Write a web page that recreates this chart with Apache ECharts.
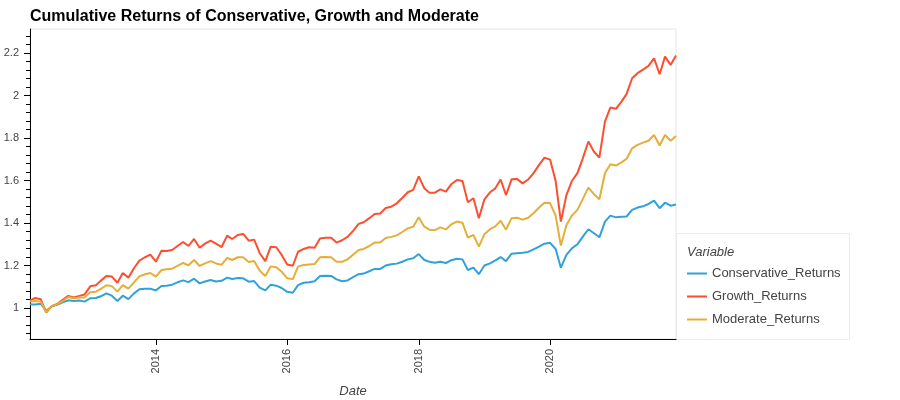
<!DOCTYPE html>
<html>
<head>
<meta charset="utf-8">
<script src="https://cdn.jsdelivr.net/npm/echarts@6/dist/echarts.min.js"></script>
<style>
  html, body { margin: 0; padding: 0; background: #fff; }
  #chart { width: 900px; height: 400px; }
</style>
</head>
<body>
<div id="chart"></div>
<script>
// monthly dates, Feb 2012 .. Dec 2021
const dates = [
  '2012-02','2012-03','2012-04','2012-05','2012-06','2012-07','2012-08','2012-09','2012-10','2012-11','2012-12','2013-01',
  '2013-02','2013-03','2013-04','2013-05','2013-06','2013-07','2013-08','2013-09','2013-10','2013-11','2013-12','2014-01',
  '2014-02','2014-03','2014-04','2014-05','2014-06','2014-07','2014-08','2014-09','2014-10','2014-11','2014-12','2015-01',
  '2015-02','2015-03','2015-04','2015-05','2015-06','2015-07','2015-08','2015-09','2015-10','2015-11','2015-12','2016-01',
  '2016-02','2016-03','2016-04','2016-05','2016-06','2016-07','2016-08','2016-09','2016-10','2016-11','2016-12','2017-01',
  '2017-02','2017-03','2017-04','2017-05','2017-06','2017-07','2017-08','2017-09','2017-10','2017-11','2017-12','2018-01',
  '2018-02','2018-03','2018-04','2018-05','2018-06','2018-07','2018-08','2018-09','2018-10','2018-11','2018-12','2019-01',
  '2019-02','2019-03','2019-04','2019-05','2019-06','2019-07','2019-08','2019-09','2019-10','2019-11','2019-12','2020-01',
  '2020-02','2020-03','2020-04','2020-05','2020-06','2020-07','2020-08','2020-09','2020-10','2020-11','2020-12','2021-01',
  '2021-02','2021-03','2021-04','2021-05','2021-06','2021-07','2021-08','2021-09','2021-10','2021-11','2021-12'
];

const conservative = [
  1.017, 1.017, 1.020, 0.986, 1.008, 1.015, 1.027, 1.036, 1.033, 1.035, 1.030, 1.046,
  1.047, 1.055, 1.069, 1.058, 1.033, 1.058, 1.042, 1.069, 1.088, 1.091, 1.091, 1.083,
  1.104, 1.105, 1.110, 1.121, 1.130, 1.122, 1.138, 1.116, 1.125, 1.132, 1.125, 1.128,
  1.143, 1.137, 1.141, 1.140, 1.124, 1.127, 1.096, 1.083, 1.110, 1.105, 1.094, 1.076,
  1.072, 1.108, 1.119, 1.121, 1.126, 1.151, 1.152, 1.151, 1.135, 1.126, 1.130, 1.145,
  1.159, 1.162, 1.173, 1.184, 1.184, 1.200, 1.206, 1.209, 1.218, 1.229, 1.234, 1.254,
  1.226, 1.218, 1.213, 1.218, 1.212, 1.225, 1.232, 1.229, 1.179, 1.190, 1.159, 1.200,
  1.210, 1.223, 1.240, 1.221, 1.256, 1.258, 1.260, 1.264, 1.276, 1.289, 1.303, 1.307,
  1.278, 1.190, 1.250, 1.281, 1.300, 1.336, 1.371, 1.352, 1.333, 1.407, 1.435, 1.427,
  1.430, 1.431, 1.462, 1.473, 1.479, 1.490, 1.506, 1.470, 1.496, 1.482, 1.487
];

const growth = [
  1.036, 1.047, 1.041, 0.978, 1.009, 1.019, 1.038, 1.057, 1.050, 1.057, 1.064, 1.102,
  1.107, 1.129, 1.151, 1.148, 1.119, 1.165, 1.143, 1.187, 1.223, 1.239, 1.251, 1.218,
  1.270, 1.268, 1.273, 1.292, 1.311, 1.292, 1.325, 1.284, 1.303, 1.317, 1.303, 1.287,
  1.341, 1.325, 1.344, 1.349, 1.317, 1.322, 1.258, 1.221, 1.289, 1.286, 1.250, 1.205,
  1.199, 1.265, 1.278, 1.286, 1.284, 1.327, 1.331, 1.331, 1.308, 1.319, 1.335, 1.363,
  1.396, 1.404, 1.423, 1.443, 1.445, 1.471, 1.477, 1.493, 1.518, 1.545, 1.556, 1.620,
  1.564, 1.543, 1.543, 1.559, 1.548, 1.583, 1.603, 1.598, 1.498, 1.517, 1.423, 1.512,
  1.545, 1.562, 1.605, 1.532, 1.606, 1.608, 1.587, 1.605, 1.635, 1.674, 1.708, 1.699,
  1.598, 1.407, 1.532, 1.598, 1.635, 1.705, 1.784, 1.736, 1.708, 1.878, 1.944, 1.938,
  1.972, 2.007, 2.082, 2.106, 2.123, 2.140, 2.176, 2.101, 2.184, 2.145, 2.189
];

const moderate = [
  1.030, 1.033, 1.030, 0.980, 1.009, 1.017, 1.033, 1.052, 1.046, 1.049, 1.050, 1.074,
  1.077, 1.090, 1.107, 1.103, 1.077, 1.108, 1.091, 1.121, 1.149, 1.159, 1.165, 1.148,
  1.179, 1.182, 1.185, 1.198, 1.212, 1.201, 1.226, 1.198, 1.210, 1.221, 1.210, 1.204,
  1.236, 1.226, 1.239, 1.239, 1.217, 1.221, 1.176, 1.151, 1.196, 1.192, 1.171, 1.140,
  1.136, 1.195, 1.203, 1.205, 1.207, 1.239, 1.240, 1.239, 1.218, 1.218, 1.229, 1.251,
  1.273, 1.278, 1.292, 1.308, 1.309, 1.330, 1.335, 1.342, 1.358, 1.375, 1.383, 1.427,
  1.383, 1.369, 1.367, 1.380, 1.370, 1.394, 1.407, 1.402, 1.331, 1.344, 1.289, 1.347,
  1.371, 1.383, 1.411, 1.369, 1.423, 1.425, 1.416, 1.425, 1.446, 1.473, 1.496, 1.494,
  1.435, 1.294, 1.391, 1.435, 1.462, 1.514, 1.567, 1.536, 1.512, 1.635, 1.677, 1.671,
  1.686, 1.702, 1.752, 1.768, 1.779, 1.788, 1.815, 1.765, 1.815, 1.788, 1.810
];

const seriesNames = ['Conservative_Returns', 'Growth_Returns', 'Moderate_Returns'];
const seriesColors = ['#30a2da', '#fc4f30', '#e5ae38'];
const xTickLabels = ['2014-01', '2016-01', '2018-01', '2020-01'];
const yTickLabels = [1, 1.2, 1.4, 1.6, 1.8, 2, 2.2];

const FONT = '"Liberation Sans", Arial, sans-serif';
const Y_MIN = 0.854, Y_MAX = 2.314;

// minor ticks every 0.04 between the major ones
let yMinor = [];
for (let v = 0.88; v < Y_MAX; v += 0.04)
{
  let r = Math.round(v * 100) / 100;
  if (Math.abs(Math.round(r * 5) - r * 5) > 1e-6) yMinor.push(r);
};

let toTime = d => echarts.time.parse(d).getTime();
let times = dates.map(toTime);
let xTicks = xTickLabels.map(toTime);
let toPairs = vals => vals.map((v, i) => [times[i], v]);

let chart = echarts.init(document.getElementById('chart'), null, {renderer: 'canvas'});

chart.setOption({
  animation: false,
  backgroundColor: '#fff',
  textStyle: {fontFamily: FONT},
  title: {
    text: 'Cumulative Returns of Conservative, Growth and Moderate',
    left: 30, top: 9, padding: 0,
    textStyle: {fontFamily: FONT, fontSize: 16, fontWeight: 'bold', color: '#000'}
  },
  grid: {
    left: 30, right: 224, top: 29, bottom: 61,
    outerBoundsMode: 'none',
    show: true, borderColor: '#e5e5e5', borderWidth: 1, backgroundColor: '#fff'
  },
  legend: {
    orient: 'vertical',
    left: 686, top: 266, padding: 0,
    itemWidth: 20, itemHeight: 14, itemGap: 8,
    itemStyle: {opacity: 0},
    lineStyle: {width: 2},
    textStyle: {fontFamily: FONT, fontSize: 13, color: '#444', lineHeight: 15},
    data: seriesNames
  },
  graphic: [
    {
      type: 'rect', z: -1,
      shape: {x: 676.5, y: 233.5, width: 173, height: 106},
      style: {fill: '#fff', stroke: '#ececec', lineWidth: 1}
    },
    {
      type: 'text', left: 687, top: 246,
      style: {text: 'Variable', fontFamily: FONT, fontSize: 13, fontStyle: 'italic', fill: '#444'}
    }
  ],
  xAxis: {
    type: 'value',
    min: times[0], max: times[times.length - 1],
    name: 'Date', nameLocation: 'middle', nameGap: 46,
    nameTextStyle: {fontFamily: FONT, fontSize: 13, fontStyle: 'italic', color: '#444'},
    axisLine: {lineStyle: {color: '#000', width: 1}},
    axisTick: {customValues: xTicks, length: 6, lineStyle: {color: '#000'}},
    axisLabel: {
      customValues: xTicks, rotate: 90, margin: 10,
      fontFamily: FONT, fontSize: 11, color: '#444',
      formatter: v => echarts.time.format(v, '{yyyy}', false)
    },
    splitLine: {show: false}
  },
  yAxis: [
    {
      type: 'value', position: 'left',
      min: Y_MIN, max: Y_MAX,
      axisLine: {show: true, lineStyle: {color: '#000', width: 1}},
      axisTick: {show: true, customValues: yTickLabels, length: 6, lineStyle: {color: '#000'}},
      axisLabel: {customValues: yTickLabels, margin: 11, fontFamily: FONT, fontSize: 11, color: '#444'},
      splitLine: {show: false}
    },
    {
      type: 'value', position: 'left',
      min: Y_MIN, max: Y_MAX,
      axisLine: {show: false},
      axisTick: {show: true, customValues: yMinor, length: 4, lineStyle: {color: '#000'}},
      axisLabel: {show: false},
      splitLine: {show: false}
    }
  ],
  series: [conservative, growth, moderate].map((vals, i) => ({
    name: seriesNames[i],
    type: 'line',
    yAxisIndex: 0,
    data: toPairs(vals),
    symbol: 'none',
    color: seriesColors[i],
    lineStyle: {width: 2, color: seriesColors[i]},
    emphasis: {disabled: true}
  }))
});
</script>
</body>
</html>
